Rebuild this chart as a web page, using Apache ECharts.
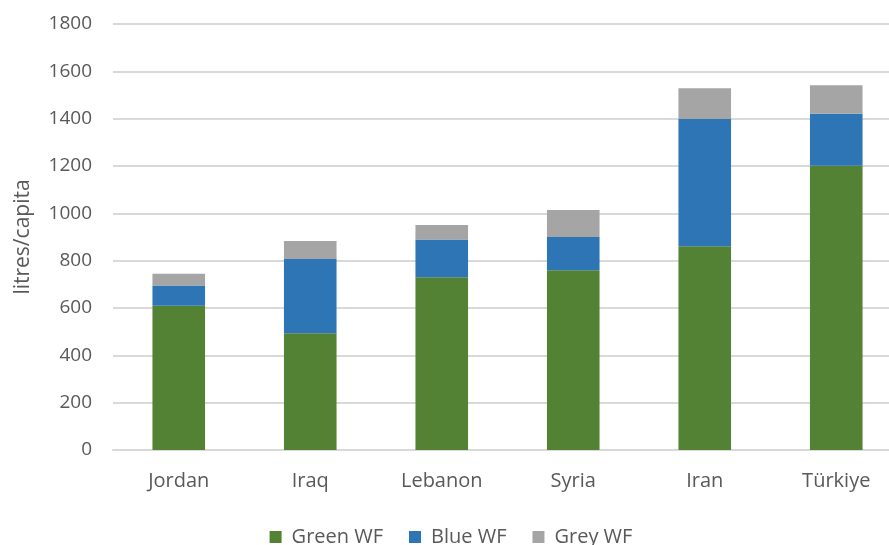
<!DOCTYPE html>
<html>
<head>
<meta charset="utf-8">
<script src="https://cdn.jsdelivr.net/npm/echarts@6/dist/echarts.min.js"></script>
<style>
  html, body { margin: 0; padding: 0; background: #fff; overflow: hidden; }
  #wrap { width: 889px; height: 545px; overflow: hidden; }
  #chart { width: 902px; height: 545px; }
</style>
</head>
<body>
<div id="wrap"><div id="chart"></div></div>
<script>
// Water footprint per capita by country (litres/capita)
const countries = ['Jordan', 'Iraq', 'Lebanon', 'Syria', 'Iran', 'Türkiye'];
const greenWF = [610, 493, 730, 759, 861, 1201];
const blueWF = [85, 314, 159, 141, 538, 220];
const greyWF = [50, 76, 62, 114, 129, 120];
const yTicks = { min: 0, max: 1800, interval: 200 };

const font = '"Open Sans", sans-serif';
const textColor = '#595959';

const chart = echarts.init(document.getElementById('chart'), null, { renderer: 'canvas' });

function barSeries(name, data, color) {
  return {
    name: name,
    type: 'bar',
    stack: 'wf',
    data: data,
    barWidth: '40%',
    itemStyle: { color: color },
    emphasis: { disabled: true }
  };
}

chart.setOption({
  animation: false,
  grid: { left: 113, top: 24, right: 0, height: 426, containLabel: false },
  legend: {
    bottom: -7,
    left: 'center',
    itemWidth: 12,
    itemHeight: 12,
    itemGap: 26,
    icon: 'rect',
    textStyle: { fontFamily: font, fontSize: 20, color: textColor, padding: [0, 0, 0, 5] },
    data: ['Green WF', 'Blue WF', 'Grey WF']
  },
  xAxis: {
    type: 'category',
    data: countries,
    axisLine: { show: true, lineStyle: { color: '#d9d9d9', width: 2 } },
    axisTick: { show: false },
    axisLabel: { fontFamily: font, fontSize: 20, color: textColor, margin: 21 }
  },
  yAxis: {
    type: 'value',
    min: yTicks.min,
    max: yTicks.max,
    interval: yTicks.interval,
    name: 'litres/capita',
    nameLocation: 'middle',
    nameGap: 79,
    nameRotate: 90,
    nameTextStyle: { fontFamily: font, fontSize: 21, color: textColor },
    axisLine: { show: false },
    axisTick: { show: false },
    axisLabel: { fontFamily: font, fontSize: 19, color: textColor, margin: 21, formatter: v => String(v) },
    splitLine: { lineStyle: { color: '#d9d9d9', width: 2 } }
  },
  series: [
    barSeries('Green WF', greenWF, '#548235'),
    barSeries('Blue WF', blueWF, '#2E75B6'),
    barSeries('Grey WF', greyWF, '#A5A5A5')
  ]
});
</script>
</body>
</html>
